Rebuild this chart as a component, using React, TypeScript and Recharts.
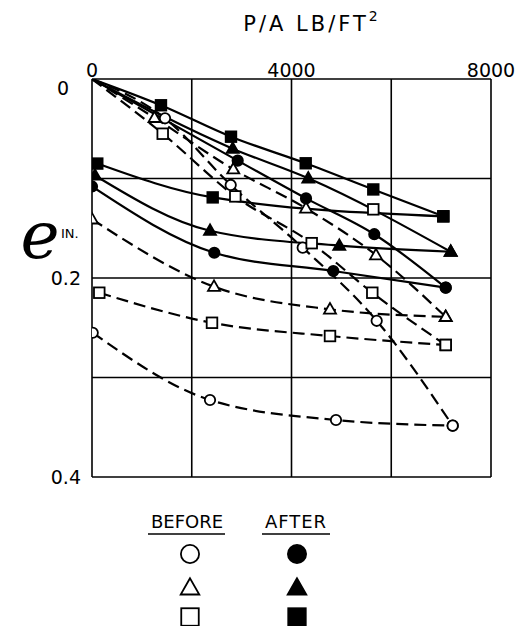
import React from 'react';
import { ComposedChart, Line, XAxis, YAxis, CartesianGrid } from 'recharts';

// Tick values and labels
const pressureTicks = [0, 2000, 4000, 6000, 8000];
const pressureLabels = ['0', '', '4000', '', '8000'];
const eTicks = [0, 0.1, 0.2, 0.3, 0.4];
const eLabels = ['0', '', '0.2', '', '0.4'];

// BEFORE (open markers, dashed)
const beforeCircleLoad: [number, number][] = [[0, 0], [1464, 0.0395], [2781, 0.1065], [4225, 0.1695], [5708, 0.243], [7232, 0.3484]];
const beforeCircleUnload: [number, number][] = [[14, 0.255], [2366, 0.3226], [4892, 0.3427], [7232, 0.3484]];
const beforeTriangleLoad: [number, number][] = [[0, 0], [1253, 0.039], [2833, 0.0907], [4291, 0.13], [5694, 0.177], [7092, 0.239]];
const beforeTriangleUnload: [number, number][] = [[0, 0.141], [2446, 0.2087], [4772, 0.2315], [7092, 0.239]];
const beforeSquareLoad: [number, number][] = [[0, 0], [1418, 0.055], [2873, 0.118], [4405, 0.165], [5620, 0.2148], [7092, 0.2673]];
const beforeSquareUnload: [number, number][] = [[146, 0.2148], [2406, 0.245], [4772, 0.2583], [7092, 0.2673]];
const beforeSquareStray: [number, number][] = [[5640, 0.131]];

// AFTER (filled markers, solid)
const afterCircleLoad: [number, number][] = [[0, 0], [2921, 0.082], [4291, 0.12], [5660, 0.156], [7092, 0.2097]];
const afterCircleUnload: [number, number][] = [[0, 0.108], [2452, 0.1746], [4838, 0.193], [7092, 0.2097]];
const afterTriangleLoad: [number, number][] = [[0, 0], [2821, 0.07], [4337, 0.0998], [7192, 0.1736]];
const afterTriangleUnload: [number, number][] = [[60, 0.097], [2366, 0.1525], [4958, 0.1675], [7192, 0.1736]];
const afterSquareLoad: [number, number][] = [[0, 0], [1383, 0.0264], [2787, 0.058], [4285, 0.0847], [5640, 0.111], [7044, 0.138]];
const afterSquareUnload: [number, number][] = [[106, 0.085], [2420, 0.119], [7044, 0.138]];

type Shape = 'circle' | 'triangle' | 'square';
const toRows = (arr: [number, number][]) => arr.map(([x, y]) => ({ x, y }));

const series: { name: string; data: [number, number][]; shape: Shape; filled: boolean; dashed: boolean; noLine?: boolean }[] = [
  { name: 'bcL', data: beforeCircleLoad, shape: 'circle', filled: false, dashed: true },
  { name: 'bcU', data: beforeCircleUnload, shape: 'circle', filled: false, dashed: true },
  { name: 'btL', data: beforeTriangleLoad, shape: 'triangle', filled: false, dashed: true },
  { name: 'btU', data: beforeTriangleUnload, shape: 'triangle', filled: false, dashed: true },
  { name: 'bsL', data: beforeSquareLoad, shape: 'square', filled: false, dashed: true },
  { name: 'bsU', data: beforeSquareUnload, shape: 'square', filled: false, dashed: true },
  { name: 'acL', data: afterCircleLoad, shape: 'circle', filled: true, dashed: false },
  { name: 'acU', data: afterCircleUnload, shape: 'circle', filled: true, dashed: false },
  { name: 'atL', data: afterTriangleLoad, shape: 'triangle', filled: true, dashed: false },
  { name: 'atU', data: afterTriangleUnload, shape: 'triangle', filled: true, dashed: false },
  { name: 'asL', data: afterSquareLoad, shape: 'square', filled: true, dashed: false },
  { name: 'asU', data: afterSquareUnload, shape: 'square', filled: true, dashed: false },
  { name: 'bsS', data: beforeSquareStray, shape: 'square', filled: false, dashed: false, noLine: true },
];

const FONT = '"DejaVu Sans", sans-serif';

function Marker({ shape, filled, cx, cy, s = 1 }: { shape: Shape; filled: boolean; cx: number; cy: number; s?: number }) {
  const fill = filled ? '#000' : '#fff';
  const sw = 1.8;
  if (shape === 'circle') return <circle cx={cx} cy={cy} r={5.2 * s} fill={fill} stroke="#000" strokeWidth={sw} />;
  if (shape === 'square') {
    const h = 5.3 * s;
    return <rect x={cx - h} y={cy - h} width={2 * h} height={2 * h} fill={fill} stroke="#000" strokeWidth={sw} />;
  }
  const w = 6 * s;
  const ht = 10.5 * s;
  return (
    <polygon
      points={`${cx},${cy - ht * 0.6} ${cx - w},${cy + ht * 0.4} ${cx + w},${cy + ht * 0.4}`}
      fill={fill}
      stroke="#000"
      strokeWidth={sw}
      strokeLinejoin="miter"
    />
  );
}

const makeDot = (shape: Shape, filled: boolean) => (props: any) => {
  const { cx, cy, payload, index } = props;
  if (cx == null || cy == null || (payload && payload.x === 0 && payload.y === 0)) return <g key={`d${index}`} />;
  return (
    <g key={`d${index}`}>
      <Marker shape={shape} filled={filled} cx={cx} cy={cy} />
    </g>
  );
};

const XTick = (props: any) => {
  const { x, payload } = props;
  const i = pressureTicks.indexOf(payload.value);
  const label = i >= 0 ? pressureLabels[i] : '';
  return (
    <text x={x} y={77} textAnchor="middle" fontFamily={FONT} fontSize={19} fill="#000">
      {label}
    </text>
  );
};

const YTick = (props: any) => {
  const { y, payload } = props;
  const i = eTicks.indexOf(payload.value);
  const label = i >= 0 ? eLabels[i] : '';
  const isZero = payload.value === 0;
  return (
    <text x={isZero ? 69 : 81} y={isZero ? y + 16 : y + 7} textAnchor="end" fontFamily={FONT} fontSize={19} fill="#000">
      {label}
    </text>
  );
};

export default function App() {
  return (
    <div style={{ position: 'absolute', left: 0, top: 0, width: 519, height: 626, background: '#fff' }}>
      <ComposedChart width={519} height={626} margin={{ top: 49, right: 28, bottom: 149, left: 52 }}>
        <CartesianGrid stroke="#000" strokeWidth={1.6} fill="none" />
        <XAxis
          xAxisId={0}
          type="number"
          dataKey="x"
          orientation="top"
          domain={[0, 8000]}
          ticks={pressureTicks}
          height={30}
          axisLine={false}
          tickLine={false}
          tick={<XTick />}
          allowDataOverflow
        />
        <YAxis
          yAxisId={0}
          type="number"
          dataKey="y"
          domain={[0, 0.4]}
          ticks={eTicks}
          reversed
          width={40}
          axisLine={false}
          tickLine={false}
          tick={<YTick />}
          allowDataOverflow
        />
        {series.map((s) => (
          <Line
            key={s.name}
            data={toRows(s.data)}
            dataKey="y"
            type="monotone"
            stroke={s.noLine ? 'none' : '#000'}
            strokeWidth={2.2}
            strokeDasharray={s.dashed ? '12 6' : undefined}
            dot={makeDot(s.shape, s.filled)}
            activeDot={false}
            isAnimationActive={false}
            legendType="none"
          />
        ))}
      </ComposedChart>
      <svg width={519} height={626} style={{ position: 'absolute', left: 0, top: 0, pointerEvents: 'none' }}>
        <text x={312} y={31} textAnchor="middle" fontFamily={FONT} fontSize={21} letterSpacing={3} fill="#000">
          P/A LB/FT
          <tspan fontSize={14} dy={-10}>2</tspan>
        </text>
        <text x={40} y={258} textAnchor="middle" fontFamily='"DejaVu Serif", serif' fontStyle="italic" fontSize={66} fill="#000">
          e
        </text>
        <text x={61} y={238} fontFamily={FONT} fontSize={13} fill="#000">IN.</text>
        <text x={187} y={528} textAnchor="middle" fontFamily={FONT} fontSize={18} fill="#000">BEFORE</text>
        <line x1={148} x2={225} y1={534} y2={534} stroke="#000" strokeWidth={1.5} />
        <text x={296} y={528} textAnchor="middle" fontFamily={FONT} fontSize={18} letterSpacing={1} fill="#000">AFTER</text>
        <line x1={262} x2={330} y1={534} y2={534} stroke="#000" strokeWidth={1.5} />
        <Marker shape="circle" filled={false} cx={190} cy={554} s={1.75} />
        <Marker shape="circle" filled cx={297} cy={554} s={1.75} />
        <Marker shape="triangle" filled={false} cx={190} cy={588} s={1.55} />
        <Marker shape="triangle" filled cx={297} cy={588} s={1.55} />
        <Marker shape="square" filled={false} cx={190} cy={617} s={1.65} />
        <Marker shape="square" filled cx={297} cy={617} s={1.65} />
      </svg>
    </div>
  );
}
